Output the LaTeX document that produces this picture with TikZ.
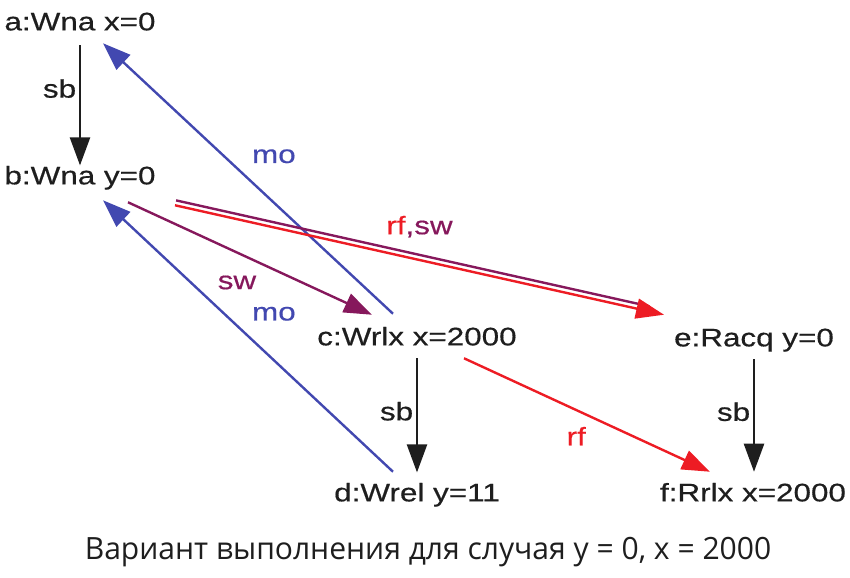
\documentclass[tikz,border=0pt]{standalone}
\usepackage{fontspec}
\newfontfamily\evfont[FakeStretch=1.24, FakeBold=0.5]{Liberation Sans}
\newfontfamily\capfont[FakeStretch=0.98]{Open Sans}
\usetikzlibrary{arrows.meta}
\definecolor{ink}{RGB}{30,30,30}
\definecolor{moblue}{RGB}{66,72,176}
\definecolor{swpurple}{RGB}{134,24,92}
\definecolor{rfred}{RGB}{237,28,36}

\begin{document}
\begin{tikzpicture}[
  x=0.75pt, y=-0.75pt,
  font=\evfont\fontsize{19}{22}\selectfont,
  ev/.style={inner sep=0pt, text height=14pt, text depth=0pt, text=ink},
  lbl/.style={inner sep=2pt},
  arr/.style={-{Triangle[length=21pt, width=15pt]}, line width=1.8pt},
  sbarr/.style={arr, ink},
  moarr/.style={arr, moblue},
  swarr/.style={arr, swpurple},
  rfarr/.style={arr, rfred},
]
\useasboundingbox (0,0) rectangle (850,578);

% events
\node[ev] (a) at (80,21) {a:Wna x=0};
\node[ev] (b) at (80,175) {b:Wna y=0};
\node[ev] (c) at (417,336) {c:Wrlx x=2000};
\node[ev] (d) at (417,492) {d:Wrel y=11};
\node[ev] (e) at (754,337) {e:Racq y=0};
\node[ev] (f) at (753,492) {f:Rrlx x=2000};

% sequenced-before
\draw[sbarr, shorten <=11pt] (a.south) -- node[pos=0.43, left, lbl] {sb} (b.north);
\draw[sbarr, shorten <=9.5pt, shorten >=7.5pt] (c.south) -- node[pos=0.48, left, lbl] {sb} (d.north);
\draw[sbarr, shorten <=9.5pt, shorten >=8pt] (e.south) -- node[pos=0.48, left, lbl] {sb} (e.south |- f.north);

% modification order
\draw[moarr] ([shift={(-18pt,9.5pt)}]c.north) -- node[pos=0.52, above right=4.5pt, lbl] {mo} ([shift={(17.25pt,-9.5pt)}]a.south);
\draw[moarr] ([shift={(-18pt,8pt)}]d.north) -- node[pos=0.52, above right=4.5pt, lbl] {mo} ([shift={(17.25pt,-11.75pt)}]b.south);

% synchronizes-with
\draw[swarr] ([shift={(36pt,-13.25pt)}]b.south) -- node[pos=0.565, below left=4.4pt, lbl] {sw} ([shift={(-33.75pt,8.75pt)}]c.north);

% reads-from (b -> e also sw)
\draw[swpurple, line width=1.8pt, shorten >=12pt, transform canvas={shift={(0.82pt,3.66pt)}}]
  ([shift={(71.25pt,-15.5pt)}]b.south) -- ([shift={(-67.5pt,9.5pt)}]e.north);
\draw[rfarr] ([shift={(71.25pt,-15.5pt)}]b.south) -- node[pos=0.5, above=14pt, lbl] {rf\textcolor{swpurple}{,sw}} ([shift={(-67.5pt,9.5pt)}]e.north);
\draw[rfarr] ([shift={(35.25pt,-9.5pt)}]c.south) -- node[pos=0.53, below left=3.5pt, lbl] {rf} ([shift={(-32.25pt,8pt)}]f.north);

\node[text=ink, font=\capfont\fontsize{23}{26}\selectfont] (cap) at (428,552) {Вариант выполнения для случая y = 0, x = 2000};
\end{tikzpicture}
\end{document}
